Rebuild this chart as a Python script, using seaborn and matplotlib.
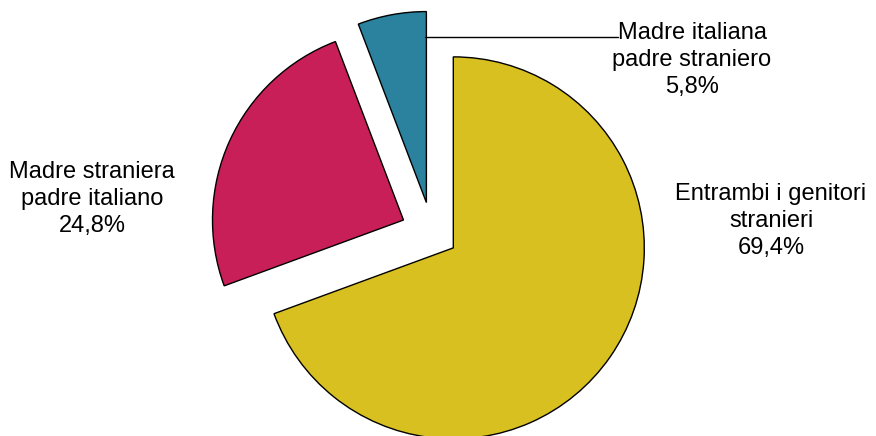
import numpy as np
import matplotlib
matplotlib.use("Agg")
import matplotlib.pyplot as plt
import seaborn as sns

# data
categories = ["Entrambi i genitori\nstranieri", "Madre straniera\npadre italiano", "Madre italiana\npadre straniero"]
values = [69.4, 24.8, 5.8]
pct_labels = ["69,4%", "24,8%", "5,8%"]
colors = ["#D9C021", "#C91F58", "#2A829E"]
explode = [0.136, 0.164, 0.162]

sns.set_theme(style="white")
plt.rcParams['font.family'] = ['Liberation Sans', 'DejaVu Sans']

W, H = 876, 436
fig = plt.figure(figsize=(W / 100, H / 100), dpi=100)
ax = fig.add_axes([0, 0, 1, 1])

# pie centre and radius in pixels
cx, cy, R = 432, 233, 191

ax.pie(values, colors=sns.color_palette(colors), explode=explode,
       startangle=90, counterclock=False, radius=1,
       wedgeprops=dict(edgecolor="black", linewidth=1.0))
ax.set_aspect('auto')
ax.set_xlim(-cx / R, (W - cx) / R)
ax.set_ylim(-(H - cy) / R, cy / R)
ax.axis('off')

# labels (pixel positions of text block centres)
label_pos = [(771, 221), (92, 199), (692, 60)]
for cat, pct, (x, y) in zip(categories, pct_labels, label_pos):
    fig.text(x / W, 1 - y / H, cat + "\n" + pct, ha="center", va="center",
             fontsize=17, linespacing=1.28, color="black")

# leader line for the small slice
fig.add_artist(plt.Line2D([425 / W, 618 / W], [1 - 37.5 / H, 1 - 37.5 / H],
                          color="black", linewidth=1.0))

fig.savefig("out.png", dpi=100)
